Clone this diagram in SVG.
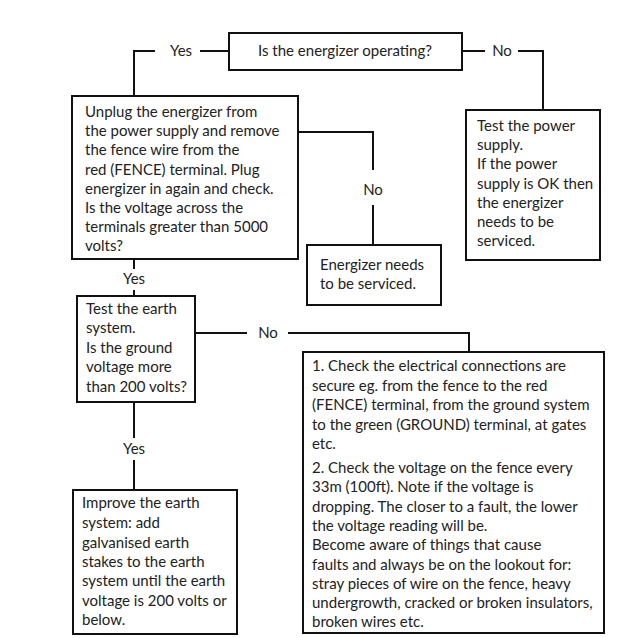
<svg xmlns="http://www.w3.org/2000/svg" width="617" height="638" viewBox="0 0 617 638">
<style>
  .box{fill:#fff;stroke:#111;stroke-width:2}
  .ln{fill:none;stroke:#111;stroke-width:2}
  text{font-family:Lato,"Open Sans",sans-serif;font-size:15px;fill:#222}
  .c{text-anchor:middle}
</style>
<rect width="617" height="638" fill="#fff"/>
<g id="connectors">
  <path class="ln" d="M155,51 H134 V96"/>
  <path class="ln" d="M200,51 H229"/>
  <path class="ln" d="M462,51 H485"/>
  <path class="ln" d="M518,51 H543 V110"/>
  <path class="ln" d="M298,132 H373 V170"/>
  <path class="ln" d="M373,205 V245"/>
  <path class="ln" d="M134,259 V269"/>
  <path class="ln" d="M134,290 V296"/>
  <path class="ln" d="M195,333 H247"/>
  <path class="ln" d="M288,333 H469 V352"/>
  <path class="ln" d="M134,402 V438"/>
  <path class="ln" d="M134,460 V490"/>
  <text class="c" x="181" y="56">Yes</text>
  <text class="c" x="502" y="56">No</text>
  <text class="c" x="373" y="195">No</text>
  <text class="c" x="134" y="284">Yes</text>
  <text class="c" x="268" y="338">No</text>
  <text class="c" x="134" y="454">Yes</text>
</g>
<g id="n-operating">
  <rect class="box" x="229" y="33" width="233" height="37"/>
  <text class="c" x="345" y="56">Is the energizer operating?</text>
</g>
<g id="n-unplug">
  <rect class="box" x="72" y="96" width="226" height="163"/>
  <text>
    <tspan x="85" y="117">Unplug the energizer from</tspan>
    <tspan x="85" y="136">the power supply and remove</tspan>
    <tspan x="85" y="155">the fence wire from the</tspan>
    <tspan x="85" y="175">red (FENCE) terminal. Plug</tspan>
    <tspan x="85" y="194">energizer in again and check.</tspan>
    <tspan x="85" y="213">Is the voltage across the</tspan>
    <tspan x="85" y="232">terminals greater than 5000</tspan>
    <tspan x="85" y="251">volts?</tspan>
  </text>
</g>
<g id="n-power">
  <rect class="box" x="466" y="110" width="134" height="150"/>
  <text>
    <tspan x="477" y="131">Test the power</tspan>
    <tspan x="477" y="150">supply.</tspan>
    <tspan x="477" y="169">If the power</tspan>
    <tspan x="477" y="189">supply is OK then</tspan>
    <tspan x="477" y="208">the energizer</tspan>
    <tspan x="477" y="227">needs to be</tspan>
    <tspan x="477" y="246">serviced.</tspan>
  </text>
</g>
<g id="n-serviced">
  <rect class="box" x="307" y="245" width="134" height="60"/>
  <text>
    <tspan x="320" y="270">Energizer needs</tspan>
    <tspan x="320" y="289">to be serviced.</tspan>
  </text>
</g>
<g id="n-earth">
  <rect class="box" x="77" y="296" width="118" height="106"/>
  <text>
    <tspan x="86" y="314">Test the earth</tspan>
    <tspan x="86" y="333">system.</tspan>
    <tspan x="86" y="353">Is the ground</tspan>
    <tspan x="86" y="372">voltage more</tspan>
    <tspan x="86" y="392">than 200 volts?</tspan>
  </text>
</g>
<g id="n-check">
  <rect class="box" x="303" y="352" width="301" height="281"/>
  <text>
    <tspan x="312" y="371">1. Check the electrical connections are</tspan>
    <tspan x="312" y="391">secure eg. from the fence to the red</tspan>
    <tspan x="312" y="410">(FENCE) terminal, from the ground system</tspan>
    <tspan x="312" y="430">to the green (GROUND) terminal, at gates</tspan>
    <tspan x="312" y="449">etc.</tspan>
    <tspan x="312" y="473">2. Check the voltage on the fence every</tspan>
    <tspan x="312" y="492">33m (100ft). Note if the voltage is</tspan>
    <tspan x="312" y="512">dropping. The closer to a fault, the lower</tspan>
    <tspan x="312" y="531">the voltage reading will be.</tspan>
    <tspan x="312" y="550">Become aware of things that cause</tspan>
    <tspan x="312" y="570">faults and always be on the lookout for:</tspan>
    <tspan x="312" y="589">stray pieces of wire on the fence, heavy</tspan>
    <tspan x="312" y="608">undergrowth, cracked or broken insulators,</tspan>
    <tspan x="312" y="627">broken wires etc.</tspan>
  </text>
</g>
<g id="n-improve">
  <rect class="box" x="73" y="490" width="164" height="144"/>
  <text>
    <tspan x="82" y="508">Improve the earth</tspan>
    <tspan x="82" y="528">system: add</tspan>
    <tspan x="82" y="548">galvanised earth</tspan>
    <tspan x="82" y="567">stakes to the earth</tspan>
    <tspan x="82" y="586">system until the earth</tspan>
    <tspan x="82" y="606">voltage is 200 volts or</tspan>
    <tspan x="82" y="625">below.</tspan>
  </text>
</g>
</svg>
